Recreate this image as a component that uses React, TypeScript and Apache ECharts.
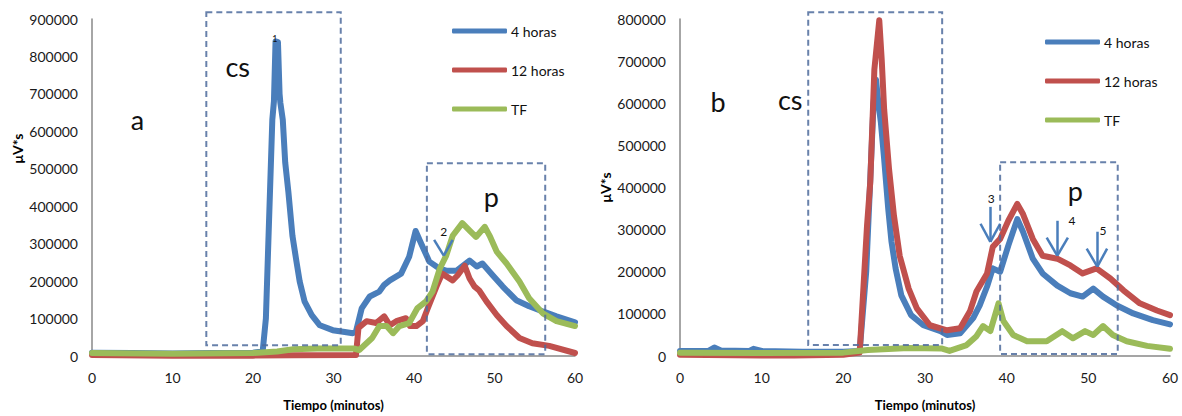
import React, { useEffect, useRef } from "react";
import * as echarts from "echarts";

const FONT = "Lato";
const seriesNames = ["4 horas", "12 horas", "TF"];
const xTicks = { min: 0, max: 60, interval: 10 };

// Chart a
const a4h: [number, number][] = [
  [0, 9000], [5, 8000], [10, 7000], [15, 8000], [20, 9000], [21.2, 12000], [21.6, 100000],
  [22.0, 366000], [22.4, 631000], [22.6, 680000], [22.8, 840000], [23.1, 838000], [23.3, 700000],
  [23.4, 676000], [23.7, 631000], [24.0, 517000], [24.4, 437000], [24.9, 321000], [25.4, 252000],
  [25.8, 199000], [26.4, 146000], [27.3, 109000], [28.3, 82000], [29.9, 69000], [31.4, 64000],
  [32.4, 61000], [32.8, 66000], [33.5, 127000], [34.5, 159000], [35.7, 172000], [36.3, 190000],
  [37, 202000], [38.4, 220000], [39.4, 265000], [40.2, 334000], [40.9, 300000], [41.9, 252000],
  [43.2, 233000], [44, 228000], [45.3, 228000], [46.9, 255000], [47.8, 239000], [48.5, 247000],
  [49.8, 215000], [51, 186000], [52.7, 149000], [54.3, 133000], [56, 119000], [57.7, 106000],
  [60, 90000],
];
const a12h: [number, number][] = [
  [0, 3000], [10, 1000], [20, 1000], [25, 2000], [32.8, 3000], [33.1, 75000], [34.1, 93000],
  [35.3, 88000], [36.3, 106000], [37, 82000], [37.8, 93000], [39, 101000], [39.5, 80000],
  [40.3, 80000], [41.1, 93000], [41.7, 127000], [42.8, 186000], [43.5, 220000], [44.8, 202000],
  [45.4, 215000], [46.3, 241000], [46.9, 207000], [47.5, 186000], [48.1, 175000], [49, 146000],
  [50.3, 109000], [51.5, 80000], [53.1, 48000], [54.7, 34000], [56.8, 27000], [60, 8000],
];
const aTF: [number, number][] = [
  [0, 8000], [10, 6000], [20, 8000], [23, 12000], [25, 18000], [28, 20000], [32.5, 20000],
  [33.2, 16000], [34.8, 48000], [35.7, 80000], [36.6, 80000], [37.4, 61000], [38.2, 80000],
  [39.4, 88000], [40.4, 127000], [41.5, 146000], [42.3, 172000], [43.2, 233000], [44, 268000],
  [44.8, 321000], [46, 355000], [47.1, 331000], [47.7, 318000], [48.8, 345000], [49.4, 321000],
  [50.3, 278000], [51.5, 247000], [53.1, 199000], [54.3, 154000], [56, 114000], [57.7, 93000],
  [60, 80000],
];

// Chart b
const b4h: [number, number][] = [
  [0, 12000], [3.5, 12000], [4.2, 20000], [5, 13000], [8.5, 12000], [9, 17000], [10, 12000],
  [15, 10000], [20, 10000], [22, 12000], [22.8, 200000], [23.3, 420000], [23.7, 600000],
  [24.0, 656000], [24.3, 600000], [24.6, 554000], [25.0, 467000], [25.5, 349000], [25.9, 271000],
  [26.4, 208000], [27.1, 144000], [28.3, 97000], [29.8, 73000], [31.9, 59000], [32.7, 50000],
  [34.3, 54000], [35.9, 90000], [36.7, 120000], [37.6, 165000], [38.3, 208000], [39.2, 200000],
  [40.2, 262000], [41.3, 325000], [42, 295000], [43.2, 231000], [44.4, 196000], [46.2, 167000],
  [47.8, 149000], [49.3, 141000], [50.6, 160000], [51.8, 141000], [53.5, 120000], [55.5, 101000],
  [57.9, 85000], [60, 75000],
];
const b12h: [number, number][] = [
  [0, 3000], [10, 1000], [14, 1000], [20, 3000], [22, 8000], [22.9, 309000], [23.3, 413000],
  [23.8, 680000], [24.4, 797000], [24.7, 703000], [25.0, 585000], [25.6, 443000], [26.2, 333000],
  [26.9, 238000], [28.0, 160000], [29.0, 113000], [30.6, 73000], [32.7, 61000], [34.3, 66000],
  [35.5, 106000], [36.3, 153000], [37.6, 196000], [38.3, 259000], [39.2, 278000], [40.2, 321000],
  [41.3, 361000], [42, 337000], [43.2, 278000], [44.4, 238000], [46.2, 231000], [47.8, 215000],
  [49.3, 196000], [51, 208000], [52.7, 184000], [54.3, 156000], [56.3, 125000], [58.4, 108000],
  [60, 97000],
];
const bTF: [number, number][] = [
  [0, 8000], [10, 7000], [20, 8000], [23, 14000], [28, 19000], [32, 18000], [33, 12000],
  [35.1, 26000], [36.3, 47000], [37.1, 71000], [38, 59000], [39, 125000], [39.6, 83000],
  [40.8, 50000], [42.5, 35000], [44.9, 35000], [46.8, 59000], [48.1, 42000], [49.6, 59000],
  [50.6, 50000], [51.8, 71000], [53, 50000], [54.7, 35000], [57.2, 24000], [60, 17000],
];

// dashed boxes [t0, vTop, t1, vBottom]
const boxesA: number[][] = [[14.2, 918000, 30.9, 29000], [41.6, 515000, 56.3, 5000]];
const boxesB: number[][] = [[15.7, 816000, 32.1, 26000], [39.2, 460000, 53.6, 5000]];

// text annotations [text, t, v]
const bigTextA: [string, number, number][] = [["a", 5.65, 631000], ["cs", 18.1, 772000], ["p", 49.6, 427000]];
const smallTextA: [string, number, number][] = [["1", 22.7, 849000], ["2", 43.7, 332000]];
const bigTextB: [string, number, number][] = [["b", 4.65, 604000], ["cs", 13.5, 608000], ["p", 48.4, 392000]];
const smallTextB: [string, number, number][] = [["1", 24.5, 806000], ["3", 38.1, 373000], ["4", 48, 322000], ["5", 51.8, 297000]];

// arrows [tTip, vTip, vTail (or null), tWingLeft, tWingRight, vWing]
const arrowsA: (number | null)[][] = [[43.7, 268000, null, 42.5, 44.8, 310000]];
const arrowsB: (number | null)[][] = [
  [38.0, 271000, 354000, 36.8, 39.2, 314000],
  [46.2, 238000, 321000, 44.9, 47.5, 281000],
  [51.1, 212000, 295000, 49.8, 52.3, 255000],
];

const COLORS = ["#4a7ebb", "#c0504d", "#9bbb59"];
const BOX_COLOR = "#4d6b9c";
const ARROW_COLOR = "#4a7ebb";

function markers(arrows: (number | null)[][], big: [string, number, number][], small: [string, number, number][]) {
  const lines: any[] = [];
  const solid = { color: ARROW_COLOR, width: 2.5, type: "solid" };
  arrows.forEach(([tt, vt, vTail, wl, wr, vw]) => {
    if (vTail !== null) lines.push([{ coord: [tt, vTail], lineStyle: solid }, { coord: [tt, vt] }]);
    lines.push([{ coord: [wl, vw], lineStyle: solid }, { coord: [tt, vt] }]);
    lines.push([{ coord: [wr, vw], lineStyle: solid }, { coord: [tt, vt] }]);
  });
  const points: any[] = [];
  big.forEach(([s, t, v]) => points.push({ name: s, coord: [t, v], label: { fontSize: 27 } }));
  small.forEach(([s, t, v]) => points.push({ name: s, coord: [t, v], label: { fontSize: s === "1" ? 9 : 12 } }));
  return {
    markLine: {
      silent: true,
      symbol: ["none", "none"],
      label: { show: false },
      emphasis: { disabled: true },
      data: lines,
    },
    markPoint: {
      silent: true,
      symbol: "circle",
      symbolSize: 1,
      itemStyle: { color: "rgba(0,0,0,0)" },
      label: { show: true, position: "inside", formatter: "{b}", color: "#111", fontFamily: FONT },
      data: points,
    },
  };
}

function lineSeries(name: string, data: [number, number][], idx: number, color: string, extra: any = {}) {
  return {
    type: "line",
    name,
    data,
    xAxisIndex: idx,
    yAxisIndex: idx,
    symbol: "none",
    showSymbol: false,
    clip: false,
    silent: true,
    lineStyle: { color, width: 6, cap: "round", join: "round" },
    itemStyle: { color },
    ...extra,
  };
}

function xAxis(gridIndex: number) {
  return {
    type: "value",
    gridIndex,
    ...xTicks,
    name: "Tiempo (minutos)",
    nameLocation: "middle",
    nameGap: 42,
    nameTextStyle: { fontFamily: FONT, fontWeight: "bold", fontSize: 13, color: "#000" },
    axisLine: { show: true, onZero: false, lineStyle: { color: "#888", width: 1.5 } },
    axisTick: { show: false },
    splitLine: { show: false },
    axisLabel: { fontFamily: FONT, fontSize: 14, color: "#1a1a1a", margin: 14 },
  };
}

function yAxis(gridIndex: number, max: number, padLeft: number) {
  return {
    type: "value",
    gridIndex,
    min: 0,
    max,
    interval: 100000,
    name: "μV*s",
    nameLocation: "middle",
    nameGap: 68,
    nameTextStyle: { fontFamily: FONT, fontWeight: "bold", fontSize: 14, color: "#000", padding: [0, 0, 0, padLeft] },
    axisLine: { show: true, lineStyle: { color: "#888", width: 1.5 } },
    axisTick: { show: false },
    splitLine: { show: false },
    axisLabel: {
      fontFamily: FONT,
      fontSize: 14,
      color: "#1a1a1a",
      margin: 14,
      formatter: (v: number) => String(v),
    },
  };
}

function legend(left: number, top: number) {
  return {
    data: seriesNames,
    orient: "vertical",
    left,
    top,
    icon: "roundRect",
    itemWidth: 55,
    itemHeight: 5,
    itemGap: 25,
    selectedMode: false,
    textStyle: { fontFamily: FONT, fontSize: 14, color: "#111", padding: [0, 0, 0, -1] },
  };
}

export default function App() {
  const ref = useRef<HTMLDivElement>(null);
  useEffect(() => {
    if (!ref.current) return;
    const chart = echarts.init(ref.current, undefined, { renderer: "svg" });
    chart.setOption({
      animation: false,
      backgroundColor: "#fff",
      grid: [
        { left: 92, right: 1182 - 575, top: 19, bottom: 58 },
        { left: 680, right: 12, top: 19, bottom: 58 },
      ],
      xAxis: [xAxis(0), xAxis(1)],
      yAxis: [yAxis(0, 900000, 78), yAxis(1, 800000, 0)],
      legend: [legend(447, 19), legend(1040, 30)],
      series: [
        lineSeries(seriesNames[0], a4h, 0, COLORS[0]),
        lineSeries(seriesNames[1], a12h, 0, COLORS[1]),
        lineSeries(seriesNames[2], aTF, 0, COLORS[2], markers(arrowsA, bigTextA, smallTextA)),
        lineSeries(seriesNames[0], b4h, 1, COLORS[0]),
        lineSeries(seriesNames[1], b12h, 1, COLORS[1]),
        lineSeries(seriesNames[2], bTF, 1, COLORS[2], markers(arrowsB, bigTextB, smallTextB)),
      ],
    });
    const boxGraphics: any[] = [];
    [boxesA, boxesB].forEach((boxes, gridIndex) => {
      boxes.forEach(([t0, v0, t1, v1]) => {
        const p0 = chart.convertToPixel({ gridIndex }, [t0, v0]) as number[];
        const p1 = chart.convertToPixel({ gridIndex }, [t1, v1]) as number[];
        boxGraphics.push({
          type: "rect",
          silent: true,
          z: 10,
          shape: { x: p0[0], y: p0[1], width: p1[0] - p0[0], height: p1[1] - p0[1] },
          style: { fill: "none", stroke: BOX_COLOR, lineWidth: 2, lineDash: [6, 4], opacity: 0.85 },
        });
      });
    });
    chart.setOption({ graphic: boxGraphics });
    return () => chart.dispose();
  }, []);
  return (
    <div
      ref={ref}
      style={{ position: "absolute", left: 0, top: 0, width: 1182, height: 416 }}
    />
  );
}
